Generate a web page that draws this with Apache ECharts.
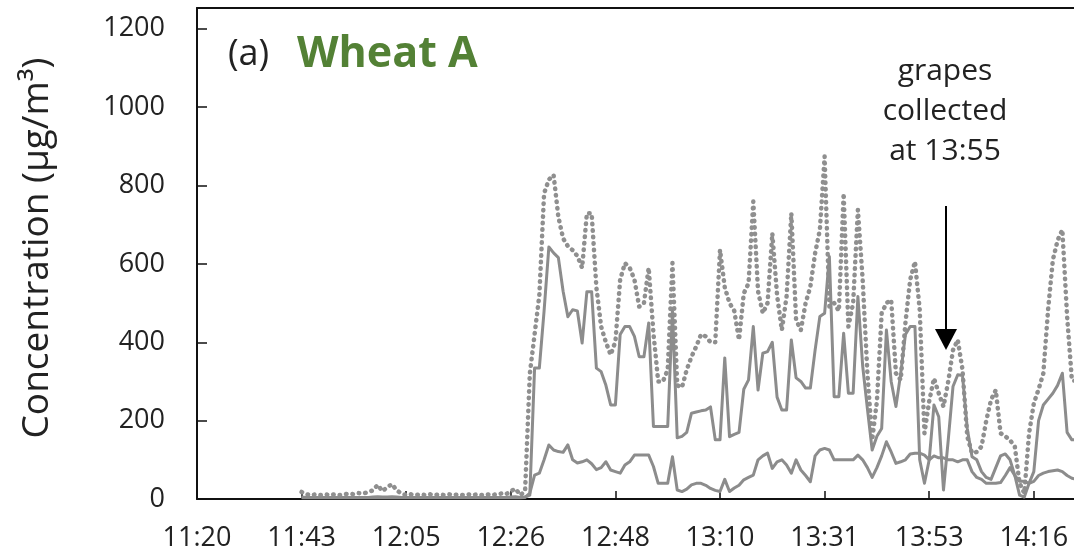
<!DOCTYPE html>
<html><head><meta charset="utf-8">
<script src="https://cdn.jsdelivr.net/npm/echarts@6/dist/echarts.min.js"></script>
<style>html,body{margin:0;padding:0;background:#fff}#c{width:1074px;height:557px}</style>
</head><body><div id="c"></div>
<script>
// minutes after 11:20 of the first sample (one sample per minute)
const startMinute = 22;
const tickInterval = 22;
const tickLabels = ['11:20','11:43','12:05','12:26','12:48','13:10','13:31','13:53','14:16'];
const yTicks = [0, 200, 400, 600, 800, 1000, 1200];

// dotted series
const seriesA = [
  18,12,10,12,10,12,10,12,10,12,
  14,12,15,14,18,22,36,20,30,38,
  22,14,10,12,10,12,10,12,10,12,
  10,12,10,12,10,12,10,12,10,12,
  10,12,14,12,20,26,10,20,320,420,
  520,780,815,827,720,665,645,635,620,590,
  729,729,540,440,400,368,402,560,602,590,
  560,491,500,590,423,300,300,330,602,290,
  285,330,363,389,420,415,400,400,636,540,
  500,480,406,525,550,759,530,474,500,678,
  520,431,517,729,457,431,500,542,627,687,
  874,491,500,480,780,440,500,738,560,321,
  151,250,474,500,508,321,304,450,560,606,
  483,168,250,308,270,236,300,380,406,330,
  160,117,120,134,200,253,278,168,160,150,
  134,40,15,168,244,280,321,483,610,660,
  687,466,304,300
];
// upper solid series
const seriesB = [
  5,4,4,4,4,4,4,4,4,4,
  4,4,4,4,4,5,6,5,5,6,
  5,4,4,4,4,4,4,4,4,4,
  4,4,4,4,4,4,4,4,4,4,
  4,4,4,4,5,6,4,5,10,334,
  334,480,643,628,616,530,465,483,480,398,
  529,529,334,325,290,240,240,420,440,440,
  415,363,363,449,185,185,185,185,480,156,
  160,170,219,222,225,227,235,151,151,360,
  159,165,170,280,304,440,278,372,376,400,
  260,227,227,406,309,300,283,283,380,466,
  474,619,261,261,423,270,270,517,340,230,
  125,160,180,431,300,236,320,420,440,440,
  100,40,100,240,210,23,150,287,317,315,
  180,108,100,70,55,50,80,110,115,100,
  60,10,5,40,70,200,240,255,270,290,
  321,170,151,151
];
// lower solid series
const seriesC = [
  3,3,3,3,3,3,3,3,3,3,
  3,3,3,3,3,3,3,3,3,3,
  3,3,3,3,3,3,3,3,3,3,
  3,3,3,3,3,3,3,3,3,3,
  3,3,3,3,3,3,3,4,15,61,
  66,100,138,125,121,119,138,100,92,95,
  100,90,75,80,95,74,70,66,87,95,
  112,112,112,112,83,40,40,40,108,23,
  19,25,36,40,40,35,27,22,19,50,
  19,28,35,49,55,61,100,110,117,78,
  95,100,87,66,100,74,60,44,110,125,
  129,125,100,100,100,100,100,112,100,80,
  55,80,110,146,120,91,95,100,115,117,
  117,112,100,110,105,105,100,100,95,100,
  100,70,55,50,40,40,40,42,60,80,
  60,45,45,40,45,60,66,70,72,74,
  70,60,53,50
];

const toPairs = arr => arr.map((v, i) => [startMinute + i, v]);
const FONT = '"Open Sans", "Noto Sans", sans-serif';
const grey = '#8c8c8c';
const xTickValues = tickLabels.map((_, i) => i * tickInterval);

const chart = echarts.init(document.getElementById('c'), null, {renderer: 'canvas'});
chart.setOption({
  animation: false,
  backgroundColor: '#fff',
  grid: {left: 197, right: 0, top: 8, bottom: 58, show: false},
  xAxis: [{
    type: 'value', min: 0, max: 184.45, interval: tickInterval,
    axisLine: {show: true, lineStyle: {color: '#111', width: 2}},
    axisTick: {show: true, inside: true, length: 8, lineStyle: {color: '#111', width: 1.5}, customValues: xTickValues},
    splitLine: {show: false},
    axisLabel: {
      margin: 26, fontFamily: FONT, fontSize: 27, color: '#222', customValues: xTickValues,
      formatter: v => { const k = Math.round(v / tickInterval); return (Math.abs(v - k * tickInterval) < 1e-6 && tickLabels[k]) ? tickLabels[k] : ''; }
    }
  }, {
    type: 'value', position: 'top', min: 0, max: 184.45,
    axisLine: {show: true, lineStyle: {color: '#111', width: 2}},
    axisTick: {show: false}, axisLabel: {show: false}, splitLine: {show: false}
  }],
  yAxis: {
    type: 'value', min: yTicks[0], max: 1253, interval: yTicks[1] - yTicks[0],
    axisLine: {show: true, lineStyle: {color: '#111', width: 2}},
    axisTick: {show: true, inside: true, length: 10, lineStyle: {color: '#111', width: 1.5}, customValues: yTicks},
    splitLine: {show: false},
    axisLabel: {margin: 32, fontFamily: FONT, fontSize: 27, color: '#222', customValues: yTicks,
      formatter: v => yTicks.indexOf(v) >= 0 ? String(v) : ''}
  },
  series: [
    {type: 'line', data: toPairs(seriesA), showSymbol: false, silent: true, z: 2,
     lineStyle: {color: '#8f8f8f', width: 4.5, type: [0.5, 6], cap: 'round', join: 'round'}},
    {type: 'line', data: toPairs(seriesB), showSymbol: false, silent: true, z: 3,
     lineStyle: {color: grey, width: 3, join: 'round'}},
    {type: 'line', data: toPairs(seriesC), showSymbol: false, silent: true, z: 3,
     lineStyle: {color: grey, width: 3, join: 'round'}}
  ],
  graphic: [
    {type: 'text', x: 37, y: 248, rotation: Math.PI / 2,
     style: {text: 'Concentration (µg/m³)', font: '37px ' + FONT, fill: '#222', align: 'center', verticalAlign: 'middle', textAlign: 'center', textVerticalAlign: 'middle'}},
    {type: 'text', x: 228, y: 55,
     style: {text: '(a)', font: '36px ' + FONT, fill: '#222', align: 'left', verticalAlign: 'middle', textAlign: 'left', textVerticalAlign: 'middle'}},
    {type: 'text', x: 297, y: 55,
     style: {text: 'Wheat A', font: 'bold 43px ' + FONT, fill: '#538135', align: 'left', verticalAlign: 'middle', textAlign: 'left', textVerticalAlign: 'middle'}},
    {type: 'text', x: 945, y: 111,
     style: {text: 'grapes\ncollected\nat 13:55', font: '30px ' + FONT, lineHeight: 40, fill: '#222', align: 'center', verticalAlign: 'middle', textAlign: 'center', textVerticalAlign: 'middle'}},
    {type: 'line', shape: {x1: 946, y1: 206, x2: 946, y2: 332}, style: {stroke: '#000', lineWidth: 2}},
    {type: 'polygon', shape: {points: [[935, 329], [957, 329], [946, 350]]}, style: {fill: '#000'}}
  ]
});
</script>
</body></html>
